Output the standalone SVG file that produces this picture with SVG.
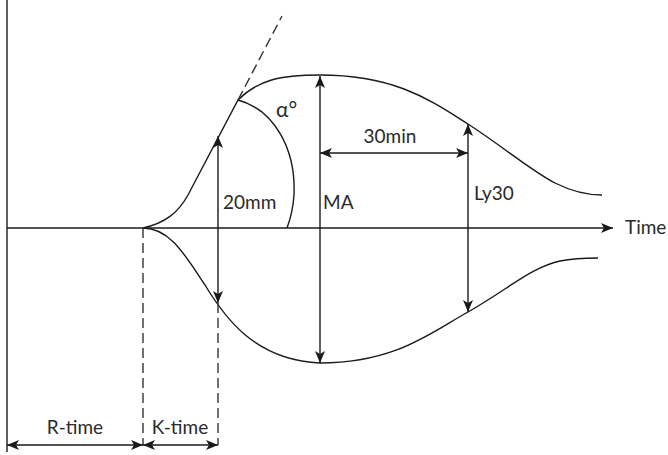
<svg xmlns="http://www.w3.org/2000/svg" width="668" height="455" viewBox="0 0 668 455">
<defs>
<marker id="ah" viewBox="0 0 12 10" refX="12" refY="5" markerWidth="13" markerHeight="10" markerUnits="userSpaceOnUse" orient="auto-start-reverse">
<path d="M0,0 L12,5 L0,10 L3,5 z" fill="#1a1a1a"/>
</marker>
</defs>
<style>
.ln{fill:none;stroke:#1a1a1a;stroke-width:1.4}
.ds{fill:none;stroke:#333;stroke-width:1.4;stroke-dasharray:10 5}
.tx{font-family:Lato,"Liberation Sans",sans-serif;font-size:19px;fill:#2a2a2a}
</style>
<rect width="668" height="455" fill="#fff"/>
<g id="axes">
<line class="ln" x1="7" y1="0" x2="7" y2="452"/>
<line class="ln" x1="7" y1="228" x2="613" y2="228" marker-end="url(#ah)"/>
<text class="tx" x="625" y="234">Time</text>
</g>
<g id="curves">
<path class="ln" d="M143,228 C165,223 178,213 188,195 L238,100 C258,80 280,75 320,75 C395,75 430,100 468,124 C505,148 530,170 555,183 C575,193 590,195 602,195"/>
<path class="ln" d="M143,228 C170,228 185,255 205,285 C225,318 255,360 320,363 C395,363 430,333 468,312 C510,288 530,268 560,261 C575,258 590,258 598,258"/>
<path class="ds" d="M238,100 L282,16"/>
<path class="ln" d="M238,100 C275,110 296,150 294,195 C293,210 290,220 287,228"/>
<text class="tx" x="276" y="117" style="font-size:21px">α°</text>
</g>
<g id="connectors">
<line class="ln" x1="218" y1="136" x2="218" y2="303" marker-start="url(#ah)" marker-end="url(#ah)"/>
<line class="ln" x1="320" y1="76" x2="320" y2="363" marker-start="url(#ah)" marker-end="url(#ah)"/>
<line class="ln" x1="320" y1="153" x2="468" y2="153" marker-start="url(#ah)" marker-end="url(#ah)"/>
<line class="ln" x1="468" y1="124" x2="468" y2="312" marker-start="url(#ah)" marker-end="url(#ah)"/>
<line class="ds" x1="143" y1="228" x2="143" y2="445"/>
<line class="ds" x1="218" y1="303" x2="218" y2="445"/>
<line class="ln" x1="7" y1="445" x2="143" y2="445" marker-start="url(#ah)" marker-end="url(#ah)"/>
<line class="ln" x1="143" y1="445" x2="218" y2="445" marker-start="url(#ah)" marker-end="url(#ah)"/>
</g>
<g id="labels">
<text class="tx" x="223" y="209">20mm</text>
<text class="tx" x="323" y="209">MA</text>
<text class="tx" x="390" y="143" text-anchor="middle">30min</text>
<text class="tx" x="474" y="200">Ly30</text>
<text class="tx" x="75" y="434" text-anchor="middle">R-time</text>
<text class="tx" x="180" y="434" text-anchor="middle">K-time</text>
</g>
</svg>
